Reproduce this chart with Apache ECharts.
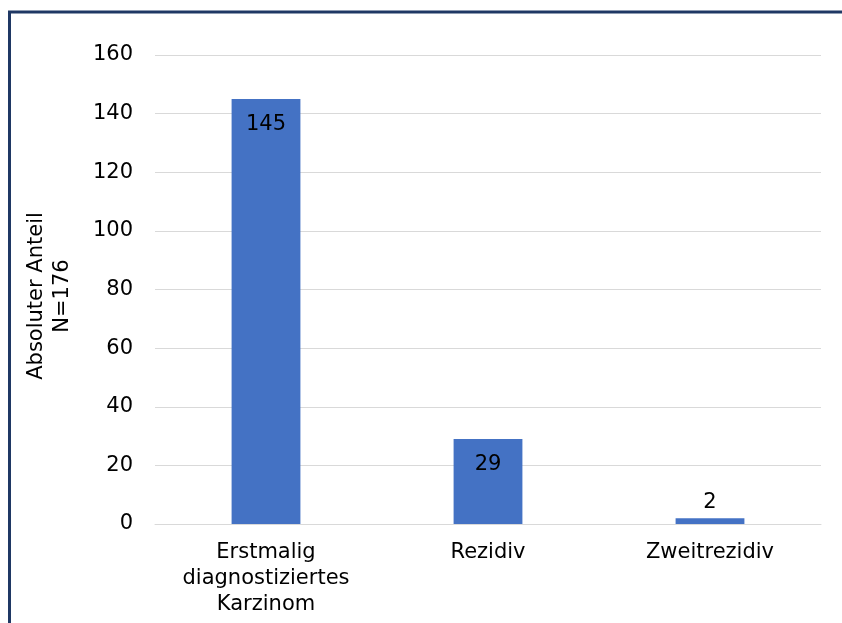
<!DOCTYPE html>
<html>
<head>
<meta charset="utf-8">
<script src="https://cdn.jsdelivr.net/npm/echarts@6/dist/echarts.min.js"></script>
<style>
  html, body { margin: 0; padding: 0; background: #fff; }
  #chart { width: 842px; height: 623px; }
</style>
</head>
<body>
<div id="chart"></div>
<script>
const categories = ['Erstmalig\ndiagnostiziertes\nKarzinom', 'Rezidiv', 'Zweitrezidiv']
const values = [145, 29, 2]
const labelPositions = ['insideTop', 'insideTop', 'top']
const labelDistances = [15, 15, 5]

const chart = echarts.init(document.getElementById('chart'))

chart.setOption({
  animation: false,
  textStyle: { fontFamily: 'DejaVu Sans, sans-serif' },
  graphic: [{
    type: 'rect',
    shape: { x: 9.5, y: 12, width: 900, height: 700 },
    style: { fill: 'none', stroke: '#1f3864', lineWidth: 3 }
  }],
  grid: {
    left: 155,
    right: 21,
    top: 55,
    bottom: 99
  },
  xAxis: {
    type: 'category',
    data: categories,
    axisLine: { lineStyle: { color: '#d9d9d9', width: 1 } },
    axisTick: { show: false },
    axisLabel: {
      color: '#000',
      fontSize: 21,
      lineHeight: 26,
      margin: 16
    }
  },
  yAxis: {
    type: 'value',
    min: 0,
    max: 160,
    interval: 20,
    name: 'Absoluter Anteil\nN=176',
    nameLocation: 'middle',
    nameGap: 79,
    nameTextStyle: { color: '#000', fontSize: 21, lineHeight: 26, padding: [0, 13, 0, 0] },
    axisLabel: { color: '#000', fontSize: 21, margin: 22 },
    splitLine: { lineStyle: { color: '#d9d9d9', width: 1 } },
    axisLine: { show: false },
    axisTick: { show: false }
  },
  series: [{
    type: 'bar',
    barWidth: '31%',
    itemStyle: { color: '#4472c4' },
    data: values.map((v, i) => ({
      value: v,
      label: { position: labelPositions[i], distance: labelDistances[i] }
    })),
    label: {
      show: true,
      color: '#000',
      fontSize: 21
    }
  }]
})
</script>
</body>
</html>
